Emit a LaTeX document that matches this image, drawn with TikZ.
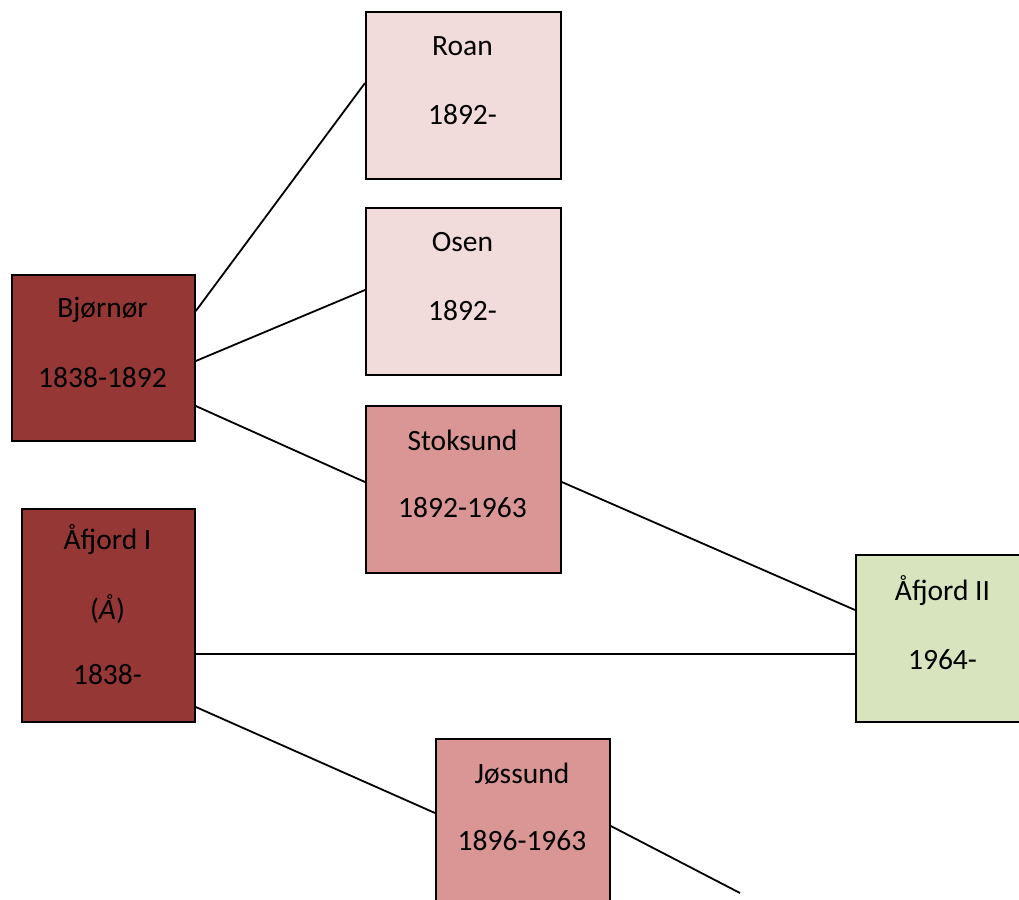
\documentclass[tikz,border=0pt]{standalone}
\usepackage{fontspec}
\setmainfont{Carlito}
\definecolor{darkred}{HTML}{953735}
\definecolor{lightpink}{HTML}{F2DCDB}
\definecolor{midpink}{HTML}{D99694}
\definecolor{lightgreen}{HTML}{D7E4BD}
\begin{document}
\begin{tikzpicture}[x=1pt,y=-1pt,
  box/.style={draw=black, line width=1.8pt, anchor=north west, inner sep=0pt},
  lbl/.style={font=\fontsize{29.5}{35}\selectfont, inner sep=0pt, anchor=center},
  conn/.style={line width=1.8pt}]
\useasboundingbox (0,0) rectangle (1019,899);
% boxes
\node[box, fill=lightpink, minimum width=195pt, minimum height=167pt] (roan) at (365,11) {};
\node[box, fill=lightpink, minimum width=195pt, minimum height=167pt] (osen) at (365,207) {};
\node[box, fill=midpink, minimum width=195pt, minimum height=167pt] (stok) at (365,405) {};
\node[box, fill=darkred, minimum width=183pt, minimum height=166pt] (bj) at (11,274) {};
\node[box, fill=darkred, minimum width=173pt, minimum height=213pt] (af1) at (21,508) {};
\node[box, fill=lightgreen, minimum width=175pt, minimum height=167pt] (af2) at (855,554) {};
\node[box, fill=midpink, minimum width=174pt, minimum height=168pt] (jos) at (435,738) {};
% labels
\node[lbl] (roan1) at (462.5,46) {Roan};
\node[lbl] (roan2) at (462.5,115) {1892-};
\node[lbl] (osen1) at (462.5,242) {Osen};
\node[lbl] (osen2) at (462.5,311) {1892-};
\node[lbl] (stok1) at (462.5,440) {Stoksund};
\node[lbl] (stok2) at (462.5,508) {1892-1963};
\node[lbl] (bj1) at (102.5,310) {Bjørnør};
\node[lbl] (bj2) at (102.5,378) {1838-1892};
\node[lbl] (af11) at (107.5,540) {Åfjord I};
\node[lbl] (af12) at (107.5,609) {(\textit{Å})};
\node[lbl] (af13) at (107.5,675) {1838-};
\node[lbl] (af21) at (942.5,591) {Åfjord II};
\node[lbl] (af22) at (942.5,660) {1964-};
\node[lbl] (jos1) at (522,774) {Jøssund};
\node[lbl] (jos2) at (522,841) {1896-1963};
% connectors
\coordinate (jend) at (740,893);
\draw[conn] ([yshift=-37pt]bj.north east) -- ([yshift=-72pt]roan.north west);
\draw[conn] ([yshift=-87pt]bj.north east) -- ([yshift=-83pt]osen.north west);
\draw[conn] ([yshift=-132pt]bj.north east) -- ([yshift=-77pt]stok.north west);
\draw[conn] ([yshift=-77pt]stok.north east) -- ([yshift=-56pt]af2.north west);
\draw[conn] ([yshift=-146pt]af1.north east) -- ([yshift=-100pt]af2.north west);
\draw[conn] ([yshift=-199pt]af1.north east) -- ([yshift=-75pt]jos.north west);
\draw[conn] ([yshift=-88pt]jos.north east) -- (jend);
\end{tikzpicture}
\end{document}
